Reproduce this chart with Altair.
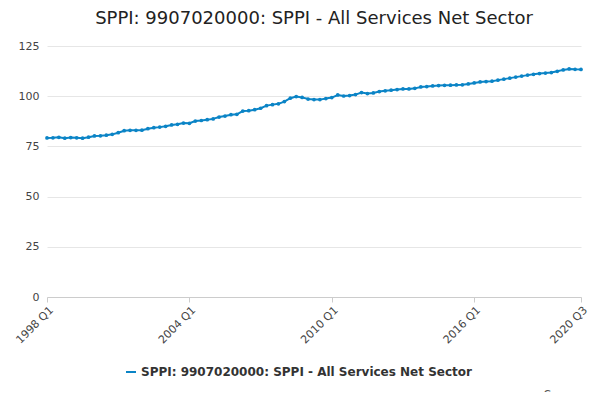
import altair as alt
import pandas as pd

years = list(range(1998, 2021))
quarters = [f"{y} Q{q}" for y in years for q in range(1, 5)][:91]
values = [
    79.2, 79.3, 79.5, 79.1, 79.4, 79.3, 79.1, 79.6,
    80.2, 80.3, 80.6, 81.0, 81.8, 82.8, 83.0, 83.0,
    83.1, 83.8, 84.3, 84.6, 85.0, 85.7, 86.0, 86.6,
    86.5, 87.6, 87.9, 88.3, 88.7, 89.6, 90.1, 90.8,
    91.0, 92.6, 92.8, 93.3, 94.0, 95.3, 95.8, 96.2,
    97.3, 99.0, 99.8, 99.4, 98.6, 98.3, 98.3, 98.8,
    99.3, 100.6, 100.1, 100.3, 100.8, 101.8, 101.3, 101.6,
    102.3, 102.7, 103.0, 103.3, 103.6, 103.6, 103.9, 104.6,
    104.8, 105.1, 105.3, 105.4, 105.5, 105.6, 105.7, 106.1,
    106.6, 107.1, 107.3, 107.5, 108.0, 108.5, 109.0, 109.5,
    110.0, 110.5, 110.9, 111.3, 111.5, 111.8, 112.4, 113.1,
    113.6, 113.4, 113.3,
]
tick_labels = ["1998 Q1", "2004 Q1", "2010 Q1", "2016 Q1", "2020 Q3"]
series = "SPPI: 9907020000: SPPI - All Services Net Sector"

df = pd.DataFrame({"quarter": quarters, "value": values, "series": series})
font = "DejaVu Sans"

line = alt.Chart(df).mark_line(
    point=alt.OverlayMarkDef(size=14, filled=True), strokeWidth=2
).encode(
    x=alt.X("quarter:O", sort=quarters, title=None,
            scale=alt.Scale(type="point", padding=0),
            axis=alt.Axis(values=tick_labels, labelAngle=-45, labelFontSize=11,
                          labelColor="#444", labelFont=font, tickColor="#ccc",
                          domainColor="#ccc", grid=False, labelPadding=2)),
    y=alt.Y("value:Q", title=None,
            scale=alt.Scale(domain=[0, 125], nice=False),
            axis=alt.Axis(values=[0, 25, 50, 75, 100, 125], labelFontSize=11,
                          labelColor="#444", labelFont=font, domain=False,
                          ticks=False, gridColor="#e6e6e6", labelPadding=8)),
    color=alt.Color("series:N", scale=alt.Scale(range=["#0b84c6"]),
                    legend=alt.Legend(orient="none", legendX=78, legendY=320,
                                      title=None, labelFont=font, labelFontSize=12,
                                      labelFontWeight="bold", labelColor="#333",
                                      symbolType="stroke", symbolStrokeWidth=2,
                                      labelLimit=500)),
)

source = alt.Chart(pd.DataFrame({"t": ["Source:"]})).mark_text(
    align="right", font=font, fontSize=12, color="#555"
).encode(x=alt.value(542), y=alt.value(349), text="t:N")

chart = alt.layer(line, source).properties(
    width=534, height=251,
    padding={"left": 39, "top": 38, "right": 11, "bottom": 95},
    autosize=alt.AutoSizeParams(type="none"),
    title=alt.TitleParams(series, font=font, fontSize=18, fontWeight="normal",
                          color="#222", anchor="middle", offset=12),
).configure_view(stroke=None)

chart.save("out.html", embed_options={"renderer": "svg", "actions": False})
